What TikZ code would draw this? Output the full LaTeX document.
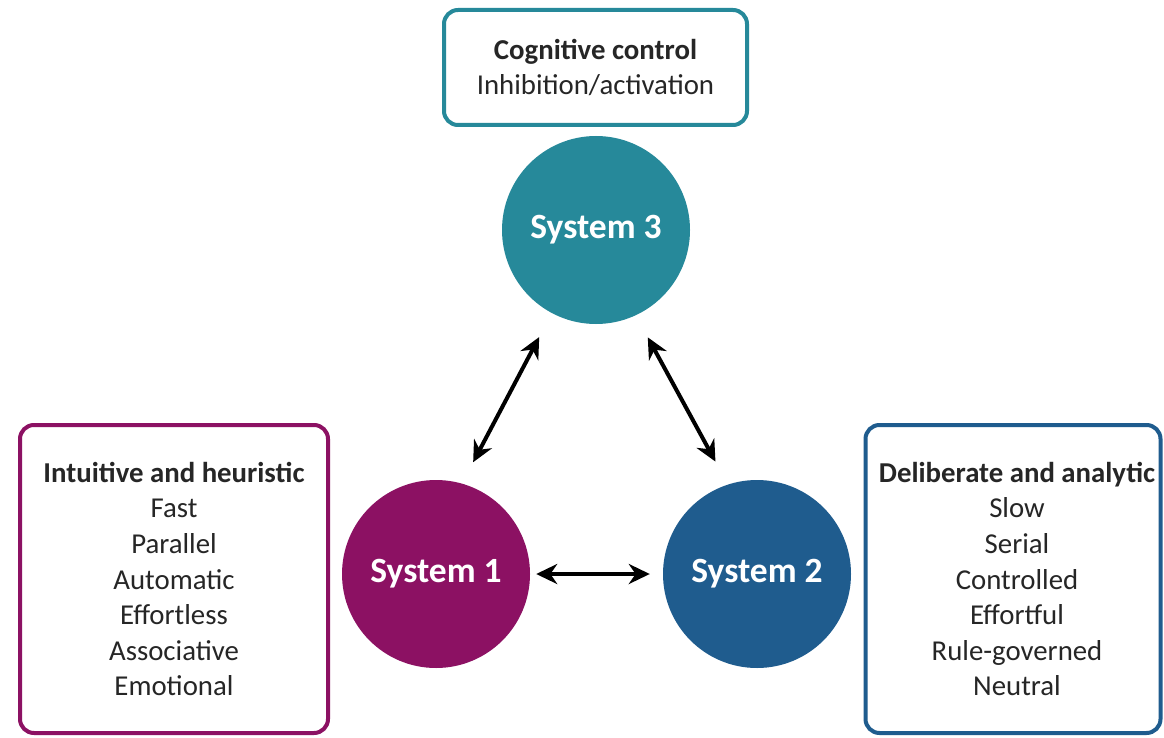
\documentclass[tikz,border=0pt]{standalone}
\usepackage{fontspec}
\setmainfont{Carlito}
\usetikzlibrary{arrows.meta}
\definecolor{sysone}{HTML}{8C1163}
\definecolor{systwo}{HTML}{1F5C8E}
\definecolor{systhree}{HTML}{26899A}
\tikzset{
  sysnode/.style={circle, minimum size=188pt, inner sep=0pt, text=white,
    font=\fontsize{35.5}{38}\selectfont\bfseries},
  infobox/.style={draw, line width=4pt, rounded corners=14pt, fill=white,
    inner sep=0pt},
  infotext/.style={align=center, inner sep=0pt, text=black!85,
    font=\fontsize{28.8}{35.6}\selectfont},
  biarrow/.style={line width=4pt, {Stealth[length=21pt,width=20pt]}-{Stealth[length=21pt,width=20pt]}},
}
\begin{document}
\begin{tikzpicture}[x=1pt,y=-1pt]
\useasboundingbox (0,0) rectangle (1164,738);
\fill[white] (0,0) rectangle (1164,738);

\node[sysnode, fill=systhree] (s3) at (596,230) {System 3};
\node[sysnode, fill=sysone] (s1) at (436,574) {System 1};
\node[sysnode, fill=systwo] (s2) at (757,574) {System 2};

\node[infobox, draw=systhree, minimum width=303pt, minimum height=115pt] (top) at (595.5,67.5) {};
\node[infotext] (toptext) at (top.center)
  {\textbf{Cognitive control}\\Inhibition/activation};
\node[infobox, draw=sysone, minimum width=308pt, minimum height=308pt] (left) at (174,579) {};
\node[infotext] (lefttext) at (left.center)
  {\textbf{Intuitive and heuristic}\\Fast\\Parallel\\Automatic\\Effortless\\Associative\\Emotional};
\node[infobox, draw=systwo, minimum width=295pt, minimum height=308pt] (right) at (1013,579) {};
\node[infotext, xshift=4pt] (righttext) at (right.center)
  {\textbf{Deliberate and analytic}\\Slow\\Serial\\Controlled\\Effortful\\Rule-governed\\Neutral};

\draw[biarrow, shorten <=24pt, shorten >=27pt] (s1.74) -- (s3.242);
\draw[biarrow, shorten <=25pt, shorten >=26pt] (s3.295) -- (s2.108);
\draw[biarrow, shorten <=6pt, shorten >=13pt] (s1.east) -- (s2.west);
\end{tikzpicture}
\end{document}
